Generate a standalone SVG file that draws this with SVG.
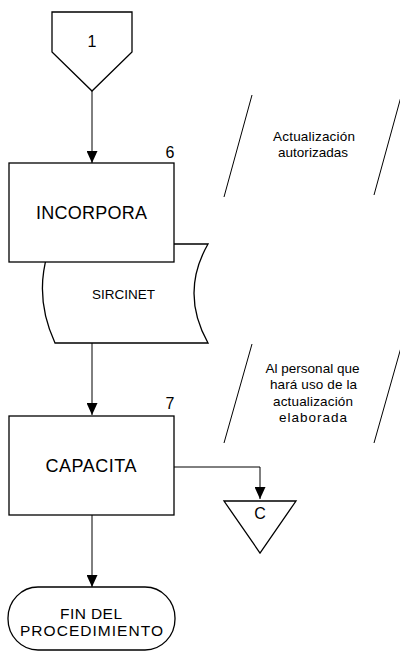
<svg xmlns="http://www.w3.org/2000/svg" width="400" height="654" viewBox="0 0 400 654">
  <style>
    .shape { fill: #fff; stroke: #000; stroke-width: 1.3; }
    .slash { stroke: #000; stroke-width: 1; fill: none; }
    .edge { stroke: #000; stroke-width: 1; fill: none; }
    text { font-family: "Liberation Sans", Arial, sans-serif; fill: #000; }
    .big { font-size: 18px; }
    .num { font-size: 16px; }
    .mid { font-size: 16px; }
    .end { font-size: 15.5px; }
    .small { font-size: 13.5px; }
    .note { font-size: 13.5px; }
  </style>
  <defs>
    <marker id="arrow" viewBox="0 0 12 11" refX="12" refY="5.5" markerWidth="12" markerHeight="11" markerUnits="userSpaceOnUse" orient="auto">
      <path d="M0,0 L12,5.5 L0,11 Z" fill="#000"/>
    </marker>
  </defs>
  <rect width="400" height="654" fill="#fff"/>

  <!-- connectors -->
  <g id="connectors">
    <path class="edge" d="M92,91 V163" marker-end="url(#arrow)"/>
    <path class="edge" d="M92,343 V415" marker-end="url(#arrow)"/>
    <path class="edge" d="M174,467 H260 V499" marker-end="url(#arrow)"/>
    <path class="edge" d="M92,515 V587" marker-end="url(#arrow)"/>
  </g>

  <!-- off-page connector 1 -->
  <g id="offpage-1">
    <path class="shape" d="M52,12 H132 V52 L92,91 L52,52 Z"/>
    <text class="num" x="92" y="47" text-anchor="middle">1</text>
  </g>

  <!-- step 6 -->
  <g id="sircinet">
    <path class="shape" d="M51,244 H208 Q180,293 208,343 H55 Q32,293 51,244 Z"/>
    <text class="small" x="123.5" y="299" text-anchor="middle" textLength="63" lengthAdjust="spacing">SIRCINET</text>
  </g>
  <g id="incorpora">
    <rect class="shape" x="9" y="163" width="165" height="99"/>
    <text class="big" x="91.5" y="219" text-anchor="middle" textLength="111" lengthAdjust="spacing">INCORPORA</text>
    <text class="num" x="170" y="158" text-anchor="middle">6</text>
  </g>

  <!-- note: actualización autorizadas -->
  <g id="note-1">
    <line class="slash" x1="252" y1="95" x2="224" y2="197"/>
    <line class="slash" x1="402" y1="93" x2="374" y2="195"/>
    <text class="note" x="314" y="141" text-anchor="middle" textLength="82" lengthAdjust="spacing">Actualización</text>
    <text class="note" x="313" y="157" text-anchor="middle" textLength="70" lengthAdjust="spacing">autorizadas</text>
  </g>

  <!-- step 7 -->
  <g id="capacita">
    <rect class="shape" x="9" y="416" width="165" height="99"/>
    <text class="big" x="91" y="472" text-anchor="middle" textLength="91" lengthAdjust="spacing">CAPACITA</text>
    <text class="num" x="170" y="409" text-anchor="middle">7</text>
  </g>

  <!-- note: al personal -->
  <g id="note-2">
    <line class="slash" x1="252" y1="344" x2="224" y2="443"/>
    <line class="slash" x1="402" y1="344" x2="374" y2="443"/>
    <text class="note" x="312.5" y="373" text-anchor="middle" textLength="94" lengthAdjust="spacing">Al personal que</text>
    <text class="note" x="313.5" y="389" text-anchor="middle" textLength="87" lengthAdjust="spacing">hará uso de la</text>
    <text class="note" x="313" y="406" text-anchor="middle" textLength="80" lengthAdjust="spacing">actualización</text>
    <text class="note" x="313" y="422" text-anchor="middle" textLength="68" lengthAdjust="spacing">elaborada</text>
  </g>

  <!-- off-page connector C -->
  <g id="offpage-c">
    <path class="shape" d="M224,501 H296 L260,553 Z"/>
    <text class="mid" x="260" y="519" text-anchor="middle">C</text>
  </g>

  <!-- end terminator -->
  <g id="fin">
    <rect class="shape" x="8" y="587" width="167" height="63" rx="30" ry="31"/>
    <text class="end" x="91" y="619" text-anchor="middle" textLength="62" lengthAdjust="spacing">FIN DEL</text>
    <text class="end" x="91.5" y="636" text-anchor="middle" textLength="143" lengthAdjust="spacing">PROCEDIMIENTO</text>
  </g>
</svg>
